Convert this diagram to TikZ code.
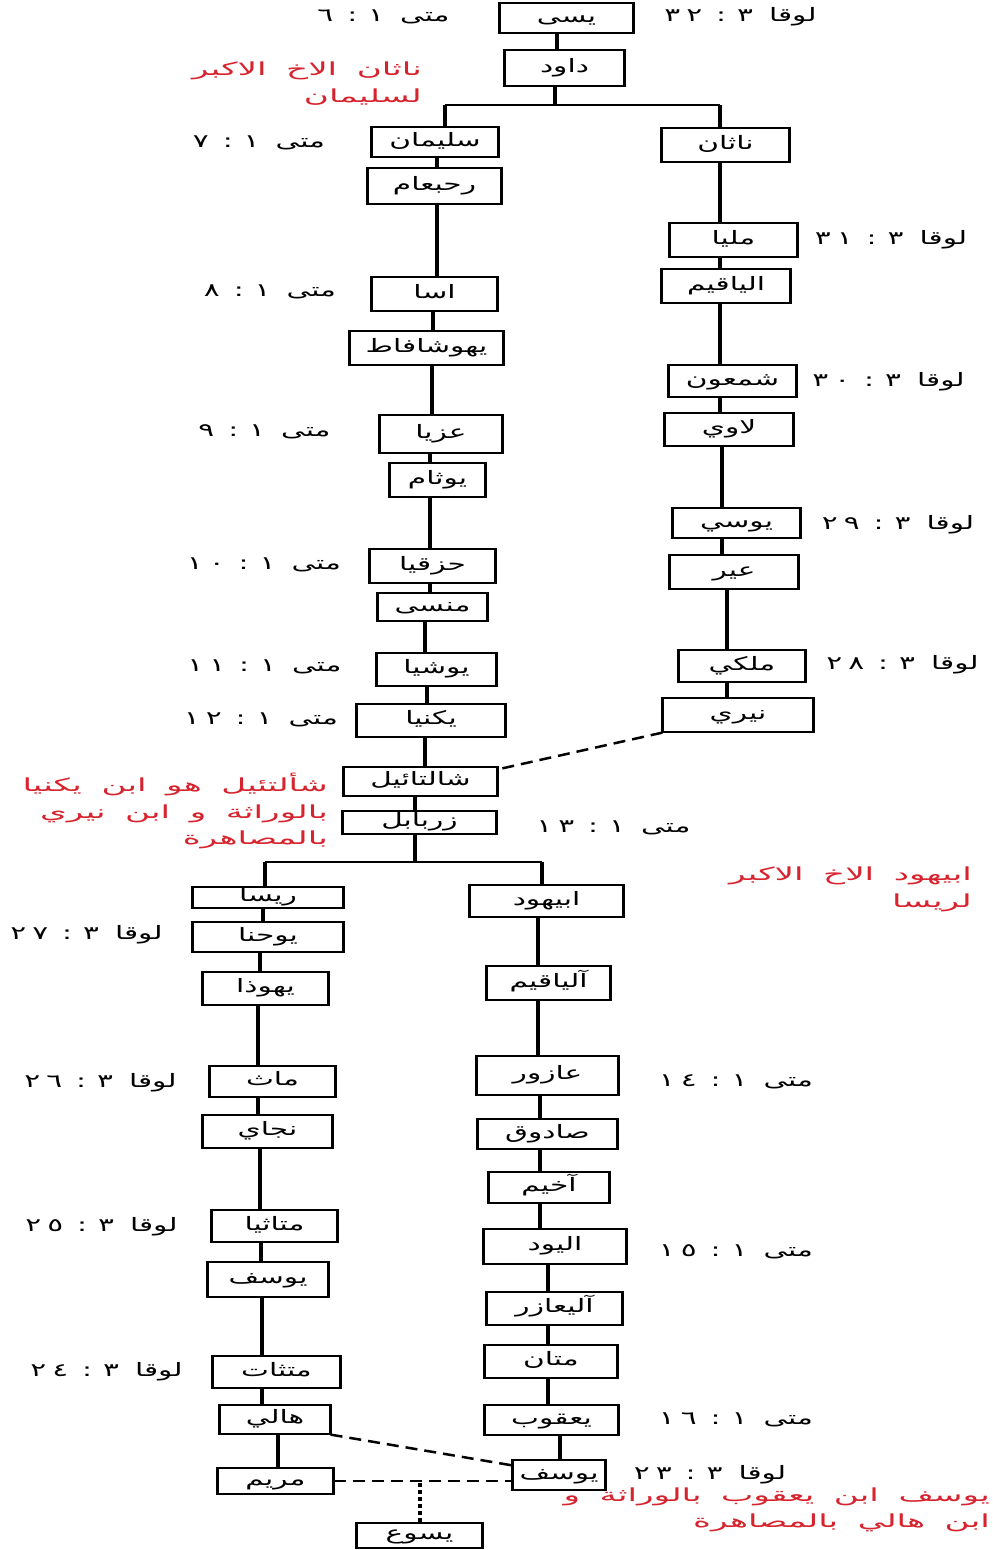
\documentclass[tikz,border=0pt]{standalone}
\usepackage{fontspec}
\newfontfamily\arfont[Script=Arabic,FakeStretch=1.6]{DejaVu Sans}
\newfontfamily\notefont[Script=Arabic,FakeStretch=1.9,WordSpace=1.8]{DejaVu Sans}
\TeXXeTstate=1
\definecolor{annot}{RGB}{215,35,45}
\newcommand{\artx}[1]{\beginR #1\endR}
\newcommand{\bref}[3]{\beginR #1\hspace{16pt}#2\hspace{11pt}:\hspace{14pt}#3\endR}
\newcommand{\twod}[2]{\beginL #1\hspace{6pt}#2\endL}
\begin{document}
\begin{tikzpicture}[x=1pt,y=-1pt,
  box/.style={draw, line width=1.2pt, inner sep=0pt, text height=13pt, text depth=5pt,
    font=\arfont\fontsize{18.5}{20}\selectfont,
    append after command={(\tikzlastnode.north west) edge[line width=3pt] (\tikzlastnode.south west)
      (\tikzlastnode.north east) edge[line width=3pt] (\tikzlastnode.south east)}},
  conn/.style={line width=3.5pt},
  bar/.style={line width=2pt},
  kin/.style={line width=2.5pt, dash pattern=on 12pt off 7pt},
  dots/.style={line width=4pt, dash pattern=on 4pt off 3pt},
  lbl/.style={font=\arfont\fontsize{18.5}{20}\selectfont, inner sep=0pt, text height=13pt, text depth=5pt},
  note/.style={text=annot, font=\notefont\fontsize{18}{26.5}\selectfont, align=right, inner sep=0pt, anchor=east}]
\fill[white] (0,0) rectangle (993,1550);
\useasboundingbox (0,0) rectangle (993,1550);

% ---- top
\node[box, minimum width=133, minimum height=30] (yishai) at (566.5,18) {\artx{يسى}};
\node[box, minimum width=119, minimum height=36] (dawud) at (564.5,68) {\artx{داود}};
\coordinate (brL) at (445,105);
\coordinate (brR) at (720,105);

% ---- Matthew line (left upper)
\node[box, minimum width=126, minimum height=30] (sulayman) at (435,142) {\artx{سليمان}};
\node[box, minimum width=133, minimum height=36] (rehoboam) at (434.5,186) {\artx{رحبعام}};
\node[box, minimum width=125, minimum height=34] (asa) at (434.5,294) {\artx{اسا}};
\node[box, minimum width=153, minimum height=34] (jehoshaphat) at (426.5,348) {\artx{يهوشافاط}};
\node[box, minimum width=122, minimum height=38] (uzziah) at (441,434) {\artx{عزيا}};
\node[box, minimum width=95, minimum height=34] (jotham) at (437.5,480) {\artx{يوثام}};
\node[box, minimum width=125, minimum height=34] (hezekiah) at (432.5,566) {\artx{حزقيا}};
\node[box, minimum width=109, minimum height=28] (manasseh) at (432.5,607) {\artx{منسى}};
\node[box, minimum width=119, minimum height=33] (josiah) at (436.5,669.5) {\artx{يوشيا}};
\node[box, minimum width=148, minimum height=33] (jeconiah) at (431,720.5) {\artx{يكنيا}};

% ---- Luke line (right upper)
\node[box, minimum width=127, minimum height=34] (nathan) at (725.5,145) {\artx{ناثان}};
\node[box, minimum width=127, minimum height=34] (melea) at (733.5,240) {\artx{مليا}};
\node[box, minimum width=128, minimum height=34] (eliakimR) at (726,286) {\artx{الياقيم}};
\node[box, minimum width=127, minimum height=32] (simeon) at (732.5,381) {\artx{شمعون}};
\node[box, minimum width=128, minimum height=33] (levi) at (729,429.5) {\artx{لاوي}};
\node[box, minimum width=127, minimum height=30] (jose) at (736.5,523) {\artx{يوسي}};
\node[box, minimum width=128, minimum height=34] (er) at (734,572) {\artx{عير}};
\node[box, minimum width=126, minimum height=32] (melchi) at (742,666) {\artx{ملكي}};
\node[box, minimum width=150, minimum height=34] (neri) at (738,715) {\artx{نيري}};

% ---- middle
\node[box, minimum width=153, minimum height=29] (shealtiel) at (420.5,781.5) {\artx{شالتائيل}};
\node[box, minimum width=153, minimum height=23] (zerubbabel) at (419.5,822.5) {\artx{زربابل}};
\coordinate (br2L) at (265,862);
\coordinate (br2R) at (542,862);

% ---- Luke line (left lower)
\node[box, minimum width=150, minimum height=21] (rhesa) at (268,897.5) {\artx{ريسا}};
\node[box, minimum width=150, minimum height=30] (joanan) at (268,937) {\artx{يوحنا}};
\node[box, minimum width=125, minimum height=33] (joda) at (265.5,988.5) {\artx{يهوذا}};
\node[box, minimum width=125, minimum height=31] (maath) at (272.5,1081.5) {\artx{ماث}};
\node[box, minimum width=129, minimum height=33] (naggai) at (267.5,1131.5) {\artx{نجاي}};
\node[box, minimum width=125, minimum height=32] (mattathias) at (274.5,1226) {\artx{متاثيا}};
\node[box, minimum width=120, minimum height=35] (josephL) at (268,1279.5) {\artx{يوسف}};
\node[box, minimum width=127, minimum height=32] (semein) at (276.5,1372) {\artx{متثات}};
\node[box, minimum width=110, minimum height=29] (heli) at (275,1419.5) {\artx{هالي}};
\node[box, minimum width=115, minimum height=26] (mary) at (275.5,1481) {\artx{مريم}};
\node[box, minimum width=125, minimum height=25] (jesus) at (419.5,1535.5) {\artx{يسوع}};

% ---- Matthew line (right lower)
\node[box, minimum width=153, minimum height=32] (abiud) at (546.5,901) {\artx{ابيهود}};
\node[box, minimum width=123, minimum height=34] (eliakimL) at (548.5,983) {\artx{آلياقيم}};
\node[box, minimum width=141, minimum height=39] (azor) at (547.5,1075.5) {\artx{عازور}};
\node[box, minimum width=139, minimum height=30] (zadok) at (547.5,1134) {\artx{صادوق}};
\node[box, minimum width=120, minimum height=31] (achim) at (549,1187.5) {\artx{آخيم}};
\node[box, minimum width=142, minimum height=35] (eliud) at (555,1246.5) {\artx{اليود}};
\node[box, minimum width=135, minimum height=33] (eleazar) at (554.5,1308.5) {\artx{آليعازر}};
\node[box, minimum width=132, minimum height=33] (matthan) at (551,1361.5) {\artx{متان}};
\node[box, minimum width=133, minimum height=30] (jacob) at (551.5,1420) {\artx{يعقوب}};
\node[box, minimum width=92, minimum height=30] (josephR) at (559,1475) {\artx{يوسف}};

% ---- connectors
\draw[conn] ([xshift=-9.5]yishai.south) -- ([xshift=-9.5]yishai.south |- dawud.north);
\draw[conn] ([xshift=-9.5]dawud.south) -- ([xshift=-9.5]dawud.south |- brL);
\draw[bar] (brL) -- (brR);
\draw[conn] (brL) -- (brL |- sulayman.north);
\draw[conn] (brR) -- (brR |- nathan.north);
\draw[conn] ([xshift=2]sulayman.south) -- ([xshift=2]sulayman.south |- rehoboam.north);
\draw[conn] ([xshift=2.5]rehoboam.south) -- ([xshift=2.5]rehoboam.south |- asa.north);
\draw[conn] ([xshift=-1.5]asa.south) -- ([xshift=-1.5]asa.south |- jehoshaphat.north);
\draw[conn] ([xshift=5.5]jehoshaphat.south) -- ([xshift=5.5]jehoshaphat.south |- uzziah.north);
\draw[conn] ([xshift=-11]uzziah.south) -- ([xshift=-11]uzziah.south |- jotham.north);
\draw[conn] ([xshift=-7.5]jotham.south) -- ([xshift=-7.5]jotham.south |- hezekiah.north);
\draw[conn] ([xshift=-2.5]hezekiah.south) -- ([xshift=-2.5]hezekiah.south |- manasseh.north);
\draw[conn] ([xshift=-7.5]manasseh.south) -- ([xshift=-7.5]manasseh.south |- josiah.north);
\draw[conn] ([xshift=-9.5]josiah.south) -- ([xshift=-9.5]josiah.south |- jeconiah.north);
\draw[conn] ([xshift=-6]jeconiah.south) -- ([xshift=-6]jeconiah.south |- shealtiel.north);
\draw[conn] ([xshift=-5.5]shealtiel.south) -- ([xshift=-5.5]shealtiel.south |- zerubbabel.north);
\draw[conn] ([xshift=-4.5]zerubbabel.south) -- ([xshift=-4.5]zerubbabel.south |- br2L);
\draw[bar] (br2L) -- (br2R);
\draw[conn] (br2L) -- (br2L |- rhesa.north);
\draw[conn] (br2R) -- (br2R |- abiud.north);

\draw[conn] ([xshift=-5.5]nathan.south) -- ([xshift=-5.5]nathan.south |- melea.north);
\draw[conn] ([xshift=-13.5]melea.south) -- ([xshift=-13.5]melea.south |- eliakimR.north);
\draw[conn] ([xshift=-6]eliakimR.south) -- ([xshift=-6]eliakimR.south |- simeon.north);
\draw[conn] ([xshift=-12.5]simeon.south) -- ([xshift=-12.5]simeon.south |- levi.north);
\draw[conn] ([xshift=-7]levi.south) -- ([xshift=-7]levi.south |- jose.north);
\draw[conn] ([xshift=-14.5]jose.south) -- ([xshift=-14.5]jose.south |- er.north);
\draw[conn] ([xshift=-7]er.south) -- ([xshift=-7]er.south |- melchi.north);
\draw[conn] ([xshift=-15]melchi.south) -- ([xshift=-15]melchi.south |- neri.north);

\draw[conn] ([xshift=-5]rhesa.south) -- ([xshift=-5]rhesa.south |- joanan.north);
\draw[conn] ([xshift=-8]joanan.south) -- ([xshift=-8]joanan.south |- joda.north);
\draw[conn] ([xshift=-7.5]joda.south) -- ([xshift=-7.5]joda.south |- maath.north);
\draw[conn] ([xshift=-14.5]maath.south) -- ([xshift=-14.5]maath.south |- naggai.north);
\draw[conn] ([xshift=-7.5]naggai.south) -- ([xshift=-7.5]naggai.south |- mattathias.north);
\draw[conn] ([xshift=-13.5]mattathias.south) -- ([xshift=-13.5]mattathias.south |- josephL.north);
\draw[conn] ([xshift=-6]josephL.south) -- ([xshift=-6]josephL.south |- semein.north);
\draw[conn] ([xshift=-14.5]semein.south) -- ([xshift=-14.5]semein.south |- heli.north);
\draw[conn] ([xshift=3]heli.south) -- ([xshift=3]heli.south |- mary.north);

\draw[conn] ([xshift=-8.5]abiud.south) -- ([xshift=-8.5]abiud.south |- eliakimL.north);
\draw[conn] ([xshift=-10.5]eliakimL.south) -- ([xshift=-10.5]eliakimL.south |- azor.north);
\draw[conn] ([xshift=-7.5]azor.south) -- ([xshift=-7.5]azor.south |- zadok.north);
\draw[conn] ([xshift=-7.5]zadok.south) -- ([xshift=-7.5]zadok.south |- achim.north);
\draw[conn] ([xshift=-9]achim.south) -- ([xshift=-9]achim.south |- eliud.north);
\draw[conn] ([xshift=-7]eliud.south) -- ([xshift=-7]eliud.south |- eleazar.north);
\draw[conn] ([xshift=-6.5]eleazar.south) -- ([xshift=-6.5]eleazar.south |- matthan.north);
\draw[conn] ([xshift=-3]matthan.south) -- ([xshift=-3]matthan.south |- jacob.north);
\draw[conn] ([xshift=8.5]jacob.south) -- ([xshift=8.5]jacob.south |- josephR.north);

% kinship (dashed) links
\draw[kin] (neri.south west) -- ([yshift=-3]shealtiel.north east);
\draw[kin] (heli.south east) -- ([yshift=-6]josephR.north west);
\draw[kin] (mary.east) -- (mary.east -| josephR.west);
\draw[dots] (jesus.north) -- (jesus.north |- mary.east);

% ---- verse references
\node[lbl] (r1) at (383.5,17) {\bref{متى}{١}{٦}};
\node[lbl] (r2) at (740.5,17) {\bref{لوقا}{٣}{\twod{٣}{٢}}};
\node[lbl] (r3) at (259,143) {\bref{متى}{١}{٧}};
\node[lbl] (r4) at (891,240) {\bref{لوقا}{٣}{\twod{٣}{١}}};
\node[lbl] (r5) at (270,292) {\bref{متى}{١}{٨}};
\node[lbl] (r6) at (888.5,382) {\bref{لوقا}{٣}{\twod{٣}{٠}}};
\node[lbl] (r7) at (264.5,432) {\bref{متى}{١}{٩}};
\node[lbl] (r8) at (898,525) {\bref{لوقا}{٣}{\twod{٢}{٩}}};
\node[lbl] (r9) at (264,565) {\bref{متى}{١}{\twod{١}{٠}}};
\node[lbl] (r10) at (902.5,665) {\bref{لوقا}{٣}{\twod{٢}{٨}}};
\node[lbl] (r11) at (264.5,667) {\bref{متى}{١}{\twod{١}{١}}};
\node[lbl] (r12) at (261,720) {\bref{متى}{١}{\twod{١}{٢}}};
\node[lbl] (r13) at (613.5,828) {\bref{متى}{١}{\twod{١}{٣}}};
\node[lbl] (r14) at (86.5,935) {\bref{لوقا}{٣}{\twod{٢}{٧}}};
\node[lbl] (r15) at (736,1082) {\bref{متى}{١}{\twod{١}{٤}}};
\node[lbl] (r16) at (100.5,1083) {\bref{لوقا}{٣}{\twod{٢}{٦}}};
\node[lbl] (r17) at (101.5,1227) {\bref{لوقا}{٣}{\twod{٢}{٥}}};
\node[lbl] (r18) at (736,1252) {\bref{متى}{١}{\twod{١}{٥}}};
\node[lbl] (r19) at (106.5,1372) {\bref{لوقا}{٣}{\twod{٢}{٤}}};
\node[lbl] (r20) at (736,1420) {\bref{متى}{١}{\twod{١}{٦}}};
\node[lbl] (r21) at (710,1475) {\bref{لوقا}{٣}{\twod{٢}{٣}}};

% ---- red notes
\node[note] (n1) at (422,83.5) {\artx{ناثان الاخ الاكبر}\\\artx{لسليمان}};
\node[note] (n2) at (328,811) {\artx{شألتئيل هو ابن يكنيا}\\\artx{بالوراثة و ابن نيري}\\\artx{بالمصاهرة}};
\node[note] (n3) at (972,889.5) {\artx{ابيهود الاخ الاكبر}\\\artx{لريسا}};
\node[note] (n4) at (990,1510) {\artx{يوسف ابن يعقوب بالوراثة و}\\\artx{ابن هالي بالمصاهرة}};
\end{tikzpicture}
\end{document}
